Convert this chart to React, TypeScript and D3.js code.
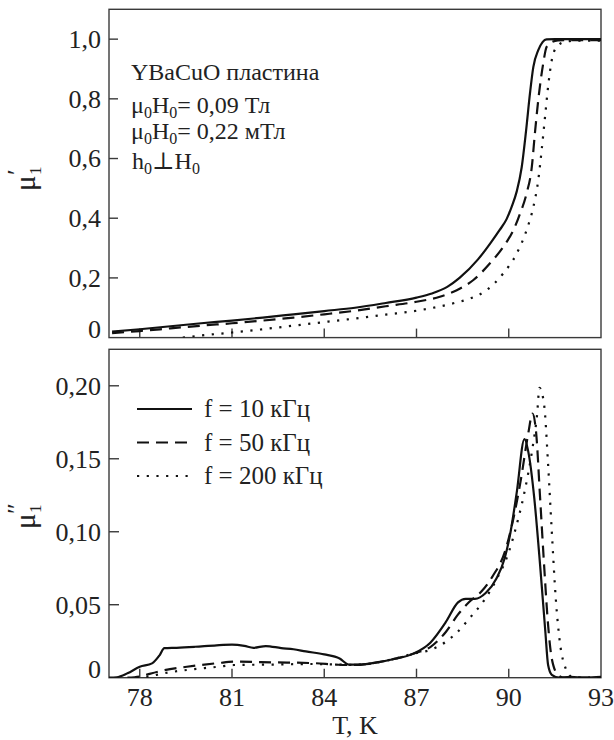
import React from "react";
import * as d3 from "d3";

// ---------- data ----------
const xTicks = [78, 81, 84, 87, 90, 93];
const topYTicks = [0, 0.2, 0.4, 0.6, 0.8, 1.0];
const topYLabels = ["0", "0,2", "0,4", "0,6", "0,8", "1,0"];
const botYTicks = [0, 0.05, 0.1, 0.15, 0.2];
const botYLabels = ["0", "0,05", "0,10", "0,15", "0,20"];

// μ'1 (top panel)
const topT10 = [77.1, 78, 79, 80, 81, 82, 83, 84, 85, 86, 87, 87.5, 88, 88.4, 89, 89.4, 89.7, 89.93, 90.1, 90.26, 90.42, 90.56, 90.69, 90.8, 90.96, 91.1, 91.23, 91.5, 92, 93];
const topV10 = [0.02, 0.028, 0.038, 0.048, 0.057, 0.067, 0.078, 0.089, 0.1, 0.116, 0.134, 0.148, 0.17, 0.2, 0.262, 0.316, 0.36, 0.397, 0.44, 0.49, 0.57, 0.69, 0.818, 0.907, 0.963, 0.99, 0.999, 1.0, 1.0, 1.0];
const topT50 = [77.1, 78, 79, 80, 81, 82, 83, 84, 85, 86, 87, 87.76, 88.31, 88.85, 89.39, 89.82, 90.15, 90.37, 90.58, 90.75, 90.85, 90.96, 91.12, 91.23, 91.4, 91.6, 92, 93];
const topV50 = [0.015, 0.022, 0.031, 0.04, 0.048, 0.057, 0.067, 0.078, 0.09, 0.105, 0.12, 0.137, 0.159, 0.193, 0.249, 0.304, 0.36, 0.416, 0.483, 0.572, 0.684, 0.796, 0.918, 0.974, 0.99, 0.996, 0.997, 0.997];
const topT200 = [79.4, 80, 81, 82, 83, 84, 85, 86, 87, 87.44, 88.2, 88.74, 89.28, 89.82, 90.26, 90.58, 90.8, 90.96, 91.07, 91.18, 91.29, 91.4, 91.56, 91.8, 92.2, 93];
const topV200 = [0, 0.007, 0.017, 0.028, 0.04, 0.052, 0.064, 0.077, 0.09, 0.098, 0.115, 0.131, 0.159, 0.215, 0.282, 0.36, 0.438, 0.528, 0.628, 0.74, 0.85, 0.93, 0.974, 0.99, 0.995, 0.995];

// μ''1 (bottom panel)
const botT10 = [77.0, 77.25, 77.6, 78.0, 78.4, 78.65, 78.8, 79.2, 79.8, 80.5, 81.0, 81.4, 81.7, 82.1, 82.6, 83.0, 83.4, 84.0, 84.5, 84.8, 85.2, 85.7, 86.2, 86.9, 87.45, 87.95, 88.35, 88.6, 88.9, 89.25, 89.6, 89.87, 90.06, 90.26, 90.51, 90.66, 90.83, 91.02, 91.19, 91.28, 91.4, 91.65, 92.0, 92.5, 93.0];
const botV10 = [0, 0.0003, 0.003, 0.0075, 0.0098, 0.0155, 0.0202, 0.0205, 0.0212, 0.0222, 0.0226, 0.0218, 0.0205, 0.0217, 0.0203, 0.0195, 0.018, 0.016, 0.0132, 0.009, 0.009, 0.0105, 0.0125, 0.0165, 0.024, 0.038, 0.0516, 0.054, 0.054, 0.058, 0.068, 0.082, 0.1, 0.127, 0.1635, 0.152, 0.123, 0.077, 0.0315, 0.0087, 0.002, 0, 0.0005, 0, 0.0005];
const botT50 = [77.6, 78.0, 78.26, 78.77, 79.53, 80.55, 81.06, 82.34, 83.62, 84.38, 84.7, 85.2, 86.2, 86.94, 87.45, 87.96, 88.34, 88.72, 89.11, 89.49, 89.87, 90.13, 90.38, 90.64, 90.77, 90.89, 91.02, 91.15, 91.28, 91.4, 91.6, 91.8, 93];
const botV50 = [0, 0.0008, 0.0023, 0.005, 0.0075, 0.01, 0.011, 0.0105, 0.01, 0.009, 0.0087, 0.009, 0.0125, 0.0167, 0.021, 0.0315, 0.043, 0.052, 0.059, 0.07, 0.086, 0.107, 0.134, 0.168, 0.181, 0.168, 0.123, 0.077, 0.036, 0.013, 0.002, 0, 0];
const botT200 = [77.9, 78.26, 78.77, 79.53, 80.55, 81.06, 82.34, 83.6, 84.4, 84.8, 85.2, 86.2, 86.94, 87.45, 87.96, 88.34, 88.72, 89.23, 89.62, 90.0, 90.26, 90.51, 90.77, 90.92, 91.0, 91.15, 91.28, 91.4, 91.53, 91.66, 91.85, 92.04, 92.3, 93];
const botV200 = [0, 0.0007, 0.003, 0.0053, 0.0075, 0.0087, 0.009, 0.0094, 0.009, 0.0088, 0.009, 0.0125, 0.0167, 0.019, 0.0247, 0.0315, 0.0406, 0.054, 0.068, 0.086, 0.105, 0.127, 0.157, 0.18, 0.1986, 0.187, 0.146, 0.1, 0.054, 0.0247, 0.0064, 0.0007, 0, 0];

const legendLabels = ["f = 10 кГц", "f = 50 кГц", "f = 200 кГц"];

// ---------- layout ----------
const W = 614, H = 740;
const L = 109, R = 601;
const topY0 = 9.3, topY1 = 337.6;
const botY0 = 349.3, botY1 = 677.7;
const FONT = "'Liberation Serif', 'DejaVu Serif', serif";
const FRAME = "#3a3a3a";
const dashes = ["none", "12 7", "2.2 7.5"];
const TS: React.CSSProperties = { fontFamily: FONT };

const x = d3.scaleLinear().domain([77, 93]).range([L, R]);
const yTop = d3.scaleLinear().domain([0, 1.1]).range([topY1, topY0]);
const yBot = d3.scaleLinear().domain([0, 0.225]).range([botY1, botY0]);

function pathOf(T: number[], V: number[], y: d3.ScaleLinear<number, number>) {
  const pts = T.map((t, i) => [t, V[i]] as [number, number]);
  return d3.line<[number, number]>().x(d => x(d[0])).y(d => y(d[1])).curve(d3.curveMonotoneX)(pts) || "";
}

const topSeries = [[topT10, topV10], [topT50, topV50], [topT200, topV200]];
const botSeries = [[botT10, botV10], [botT50, botV50], [botT200, botV200]];

function Sub({ children }: { children: string }) {
  return <tspan fontSize="16" dy="5">{children}</tspan>;
}

export default function App() {
  return (
    <div style={{ position: "absolute", left: 0, top: 0 }}>
      <svg width={W} height={H} style={{ display: "block", background: "#fff", fontFamily: FONT }}>
        <defs>
          <clipPath id="cTop"><rect x={L} y={topY0} width={R - L} height={topY1 - topY0} /></clipPath>
          <clipPath id="cBot"><rect x={L} y={botY0} width={R - L} height={botY1 - botY0} /></clipPath>
        </defs>

        {/* frames */}
        <rect x={L} y={topY0} width={R - L} height={topY1 - topY0} fill="none" stroke={FRAME} strokeWidth={1.4} />
        <rect x={L} y={botY0} width={R - L} height={botY1 - botY0} fill="none" stroke={FRAME} strokeWidth={1.4} />

        {/* top y ticks */}
        {topYTicks.map((v, i) => (
          <g key={"ty" + i}>
            {v > 0 && <line x1={L} x2={L + 9} y1={yTop(v)} y2={yTop(v)} stroke={FRAME} strokeWidth={1.4} />}
            <text style={TS} x={L - 8} y={v === 0 ? topY1 : yTop(v)} dy={v === 0 ? "0" : "0.34em"} textAnchor="end" fontSize="26" fill="#222">{topYLabels[i]}</text>
          </g>
        ))}
        {/* bottom y ticks */}
        {botYTicks.map((v, i) => (
          <g key={"by" + i}>
            {v > 0 && <line x1={L} x2={L + 10} y1={yBot(v)} y2={yBot(v)} stroke={FRAME} strokeWidth={1.4} />}
            <text style={TS} x={L - 8} y={v === 0 ? botY1 : yBot(v)} dy={v === 0 ? "0" : "0.34em"} textAnchor="end" fontSize="26" fill="#222">{botYLabels[i]}</text>
          </g>
        ))}
        {/* x ticks */}
        {xTicks.filter(t => t < 93).map(t => (
          <g key={"xt" + t}>
            <line x1={x(t)} x2={x(t)} y1={topY1} y2={topY1 - 9} stroke={FRAME} strokeWidth={1.4} />
            <line x1={x(t)} x2={x(t)} y1={botY1} y2={botY1 - 9} stroke={FRAME} strokeWidth={1.4} />
          </g>
        ))}
        {xTicks.map(t => (
          <text style={TS} key={"xl" + t} x={x(t)} y={706} textAnchor="middle" fontSize="26" fill="#222">{t}</text>
        ))}
        <text style={TS} x={(L + R) / 2} y={734} textAnchor="middle" fontSize="26" fill="#222">T, K</text>

        {/* y-axis titles */}
        <g transform={`translate(35,${191}) rotate(-90)`} fill="#222">
          <text style={TS} x={0} y={0} fontSize="29">μ</text>
          <text style={TS} x={16} y={-10} fontSize="26">′</text>
          <text style={TS} x={16} y={6} fontSize="17">1</text>
        </g>
        <g transform={`translate(35,${529}) rotate(-90)`} fill="#222">
          <text style={TS} x={0} y={0} fontSize="29">μ</text>
          <text style={TS} x={15} y={-10} fontSize="26">″</text>
          <text style={TS} x={16} y={6} fontSize="17">1</text>
        </g>

        {/* curves */}
        <g clipPath="url(#cTop)">
          {topSeries.map((s, i) => (
            <path key={"tp" + i} d={pathOf(s[0], s[1], yTop)} fill="none" stroke="#111" strokeWidth={2.2} strokeDasharray={dashes[i]} />
          ))}
        </g>
        <g clipPath="url(#cBot)">
          {botSeries.map((s, i) => (
            <path key={"bp" + i} d={pathOf(s[0], s[1], yBot)} fill="none" stroke="#111" strokeWidth={2.2} strokeDasharray={dashes[i]} />
          ))}
        </g>

        {/* annotations */}
        <g fontSize="24" fill="#222">
          <text style={TS} x={131} y={80}>YBaCuO пластина</text>
          <text style={TS} x={131} y={113}>μ<Sub>0</Sub><tspan dy="-5">H</tspan><Sub>0</Sub><tspan dy="-5">= 0,09 Тл</tspan></text>
          <text style={TS} x={131} y={139}>μ<Sub>0</Sub><tspan dy="-5">H</tspan><Sub>0</Sub><tspan dy="-5">= 0,22 мТл</tspan></text>
          <text style={TS} x={132} y={169}>h<Sub>0</Sub><tspan dy="-5">⊥H</tspan><Sub>0</Sub></text>
        </g>

        {/* legend */}
        {legendLabels.map((lab, i) => {
          const yy = 409 + i * 33.5;
          return (
            <g key={"lg" + i}>
              <line x1={137} x2={192} y1={yy} y2={yy} stroke="#111" strokeWidth={2.2} strokeDasharray={dashes[i]} />
              <text style={TS} x={204} y={yy + 8} fontSize="25" fill="#222">{lab}</text>
            </g>
          );
        })}
      </svg>
    </div>
  );
}
